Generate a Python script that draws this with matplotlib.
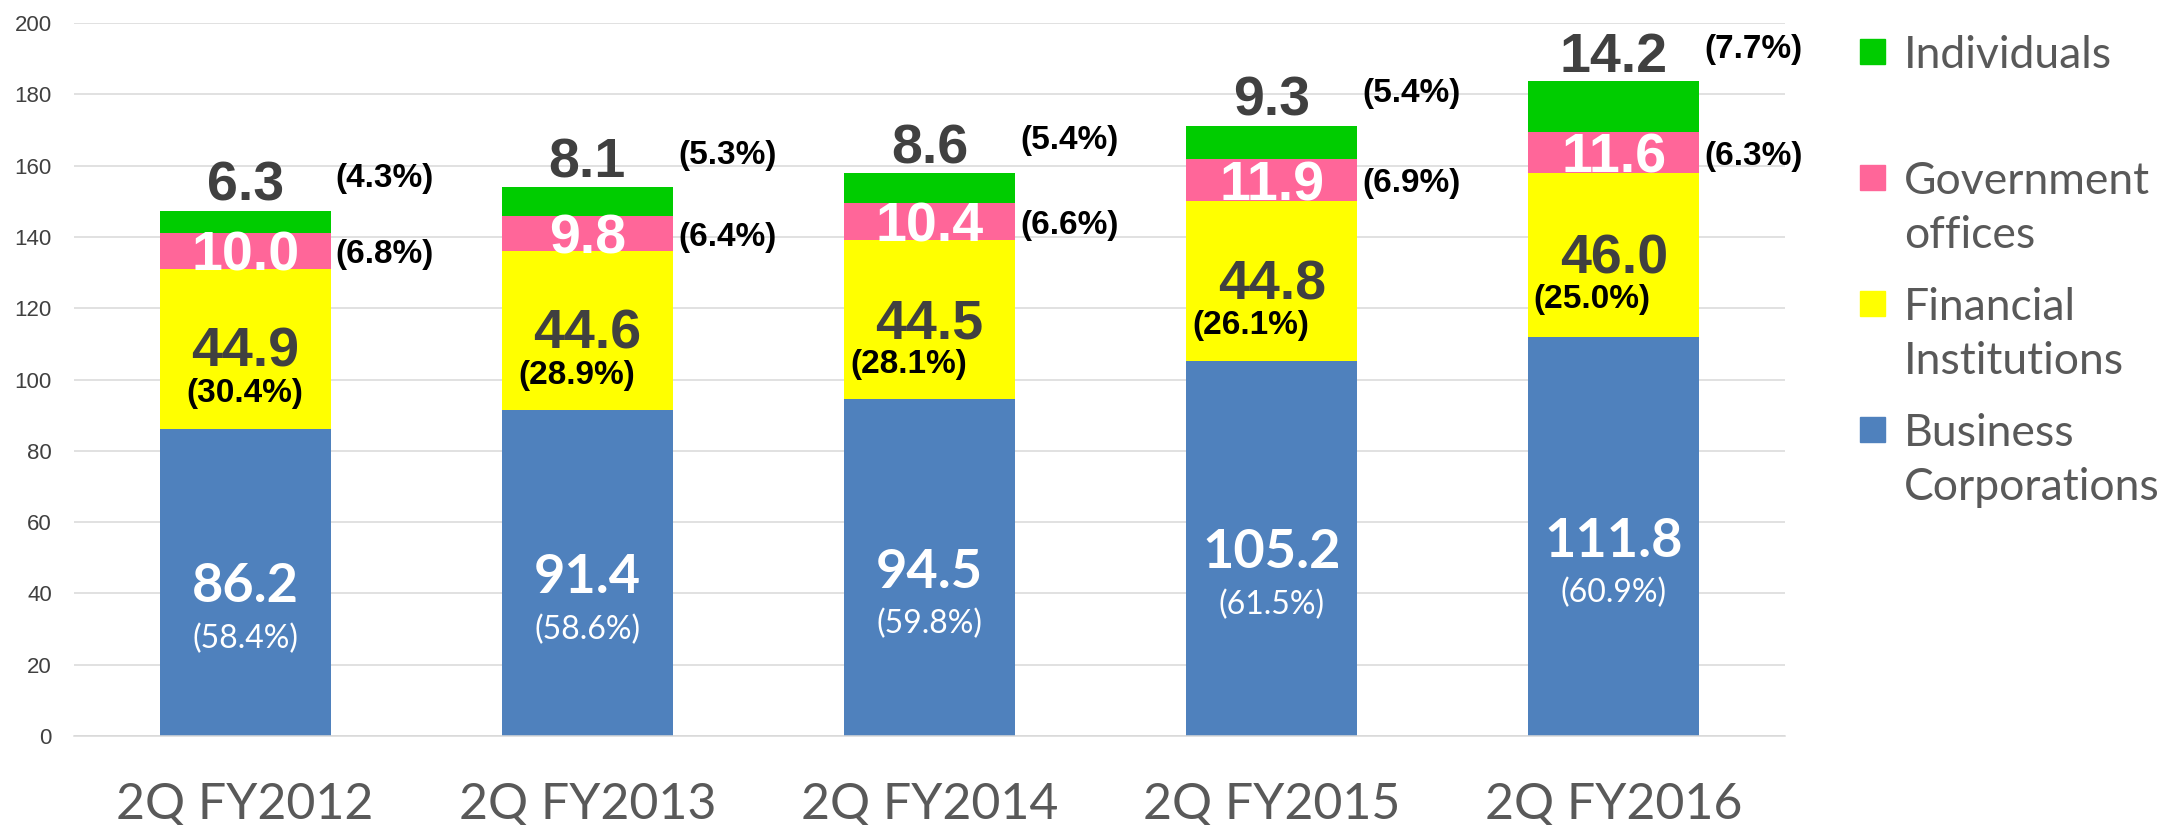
import numpy as np
import matplotlib
matplotlib.use('Agg')
import matplotlib.pyplot as plt
from matplotlib.patches import Rectangle

# data
periods = ["2Q FY2012", "2Q FY2013", "2Q FY2014", "2Q FY2015", "2Q FY2016"]

business = [86.2, 91.4, 94.5, 105.2, 111.8]
financial = [44.9, 44.6, 44.5, 44.8, 46.0]
government = [10.0, 9.8, 10.4, 11.9, 11.6]
individuals = [6.3, 8.1, 8.6, 9.3, 14.2]

business_pct = [58.4, 58.6, 59.8, 61.5, 60.9]
financial_pct = [30.4, 28.9, 28.1, 26.1, 25.0]
government_pct = [6.8, 6.4, 6.6, 6.9, 6.3]
individuals_pct = [4.3, 5.3, 5.4, 5.4, 7.7]

series_names = ["Business\nCorporations", "Financial\nInstitutions",
                "Government\noffices", "Individuals"]
colors = ['#4f81bd', '#ffff00', '#ff6699', '#00cc00']

# small manual nudges of the financial % labels (as in the original)
fi_pct_dx = [0.0, -0.03, -0.06, -0.06, -0.065]

W, H = 2179, 825
fig = plt.figure(figsize=(W / 100, H / 100), dpi=100)
ax = fig.add_axes([74 / W, (H - 736) / H, (1785 - 74) / W, (736 - 23) / H])

x = np.arange(len(periods))
bar_w = 0.5
stack = [business, financial, government, individuals]
bottoms = np.zeros(len(periods))
bases = []
for vals, c in zip(stack, colors):
    bases.append(bottoms.copy())
    ax.bar(x, vals, bar_w, bottom=bottoms, color=c, linewidth=0, zorder=2)
    bottoms = bottoms + np.array(vals)
tops = bottoms

ax.set_xlim(-0.5, 4.5)
ax.set_ylim(0, 200)
ax.set_yticks(range(0, 201, 20))
ax.set_xticks(x)
ax.set_xticklabels(periods, family='Lato')
ax.grid(axis='y', color='#d9d9d9', lw=1.1, zorder=0)
ax.set_axisbelow(True)
for s in ['top', 'right', 'left']:
    ax.spines[s].set_visible(False)
ax.spines['bottom'].set_color('#d9d9d9')
ax.spines['bottom'].set_linewidth(1.1)
ax.tick_params(length=0)
ax.tick_params(axis='y', labelsize=16, labelcolor='#404040', pad=16)
ax.tick_params(axis='x', labelsize=36, labelcolor='#595959', pad=33)
for lbl in ax.get_yticklabels():
    lbl.set_family('Liberation Sans')

val_kw = dict(family='Liberation Sans', fontweight='bold', fontsize=40,
              ha='center', va='center_baseline', zorder=5)
pct_kw = dict(family='Liberation Sans', fontweight='bold', fontsize=24,
              color='black', va='center_baseline', zorder=5)

bc_base, fi_base, go_base, ind_base = bases
right = x + bar_w / 2
for i in range(len(periods)):
    # business corporations (inside blue)
    yc = business[i] / 2
    ax.text(x[i], yc, f'{business[i]:.1f}', family='Lato', fontweight='bold',
            fontsize=39, color='white', ha='center', va='center_baseline', zorder=5)
    ax.text(x[i], yc - 15, f'({business_pct[i]:.1f}%)', family='Lato',
            fontsize=23, color='white', ha='center', va='center_baseline', zorder=5)
    # financial institutions (inside yellow)
    yc = fi_base[i] + financial[i] / 2
    ax.text(x[i], yc + 0.5, f'{financial[i]:.1f}', color='#404040', **val_kw)
    ax.text(x[i] + fi_pct_dx[i], yc - 11.5, f'({financial_pct[i]:.1f}%)',
            ha='center', **pct_kw)
    # government offices (pink)
    yc = go_base[i] + government[i] / 2
    ax.text(x[i], yc, f'{government[i]:.1f}', color='white', **val_kw)
    ax.text(right[i] + 0.015, yc, f'({government_pct[i]:.1f}%)', ha='left', **pct_kw)
    # individuals (above the bar)
    ax.annotate(f'{individuals[i]:.1f}', (x[i], tops[i]), xytext=(0, 7),
                textcoords='offset points', family='Liberation Sans',
                fontweight='bold', fontsize=40, color='#404040',
                ha='center', va='baseline', zorder=5)
    ax.text(right[i] + 0.015, tops[i] + 10, f'({individuals_pct[i]:.1f}%)',
            ha='left', **pct_kw)

# legend drawn by hand: top-to-bottom in reverse stack order
for k, idx in enumerate(range(len(series_names) - 1, -1, -1)):
    yc = 51 + 126.3 * k
    fig.add_artist(Rectangle((1860 / W, (H - yc - 12.5) / H), 25 / W, 25 / H,
                             transform=fig.transFigure, color=colors[idx]))
    for j, line in enumerate(series_names[idx].split('\n')):
        fig.text(1904 / W, (H - yc - 54 * j) / H, line, family='Lato',
                 fontsize=32, color='#595959', ha='left', va='center_baseline')

fig.savefig('out.png', dpi=100)
